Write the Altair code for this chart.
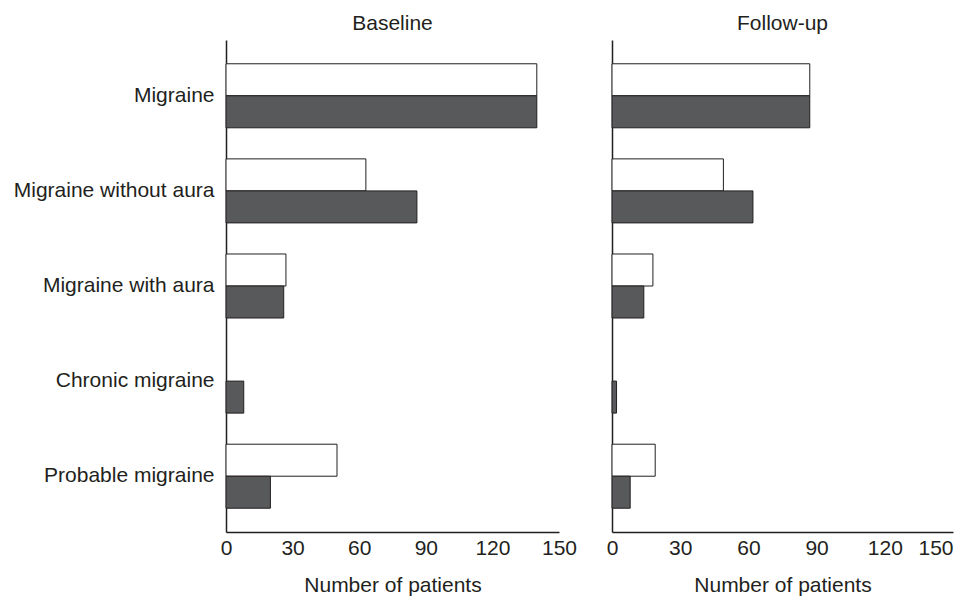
import altair as alt
import pandas as pd

categories = ["Migraine", "Migraine without aura", "Migraine with aura",
              "Chronic migraine", "Probable migraine"]
series = ["Series A", "Series B"]  # white bars, dark bars
baseline_a = [140, 63, 27, 0, 50]
baseline_b = [140, 86, 26, 8, 20]
followup_a = [87, 49, 18, 0, 19]
followup_b = [87, 62, 14, 2, 8]
x_ticks = [0, 30, 60, 90, 120, 150]

FONT = "Liberation Sans"
TXT = "#231f20"


def make_df(a, b):
    rows = []
    for c, va, vb in zip(categories, a, b):
        rows.append({"category": c, "series": series[0], "value": va})
        rows.append({"category": c, "series": series[1], "value": vb})
    return pd.DataFrame(rows)


def panel(df, title, width, show_labels, last_align):
    return alt.Chart(df).transform_filter("datum.value > 0").mark_bar(
        stroke=TXT, strokeWidth=1).encode(
        x=alt.X("value:Q",
                scale=alt.Scale(domain=[0, 150], nice=False),
                axis=alt.Axis(values=x_ticks, title="Number of patients", ticks=False,
                              grid=False, labelPadding=5, titlePadding=16,
                              labelFlush=False, labelOverlap=False,
                              labelAlign={"condition": {"test": "datum.value == 150",
                                                        "value": last_align},
                                          "value": "center"},
                              domainColor=TXT, domainWidth=1.5,
                              labelFontSize=21, titleFontSize=21,
                              labelFont=FONT, titleFont=FONT,
                              labelColor=TXT, titleColor=TXT,
                              titleFontWeight="normal")),
        y=alt.Y("category:N", sort=categories,
                scale=alt.Scale(domain=categories, paddingInner=0.327, paddingOuter=0.25),
                axis=alt.Axis(title=None, ticks=False, grid=False, labels=show_labels,
                              labelPadding=12, labelFontSize=21, labelFont=FONT,
                              labelColor=TXT, domainColor=TXT, domainWidth=1.5,
                              labelLimit=400)),
        yOffset=alt.YOffset("series:N", sort=series,
                            scale=alt.Scale(domain=series, paddingInner=0, paddingOuter=0)),
        fill=alt.Fill("series:N", sort=series,
                      scale=alt.Scale(domain=series, range=["#ffffff", "#58595b"]),
                      legend=None),
    ).properties(
        width=width, height=492,
        title=alt.TitleParams(title, fontSize=21, font=FONT, color=TXT,
                              fontWeight="normal", anchor="middle", offset=6),
    )


left = panel(make_df(baseline_a, baseline_b), "Baseline", 333, True, "center")
right = panel(make_df(followup_a, followup_b), "Follow-up", 341, False, "right")

chart = alt.hconcat(left, right, spacing=53, bounds="flush").configure(
    background="white").configure_view(stroke=None)

chart.save("out.html", embed_options={"renderer": "svg", "actions": False})
